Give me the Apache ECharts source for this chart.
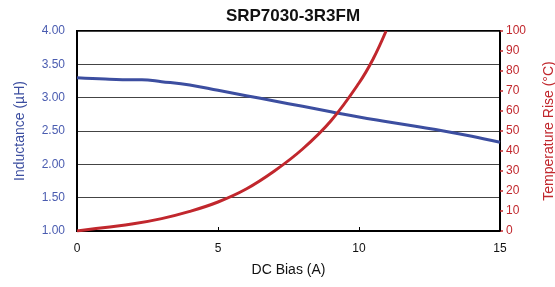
<!DOCTYPE html>
<html>
<head>
<meta charset="utf-8">
<script src="https://cdn.jsdelivr.net/npm/echarts@6/dist/echarts.min.js"></script>
<style>
  html, body { margin: 0; padding: 0; background: #fff; }
  #chart { width: 555px; height: 287px; }
</style>
</head>
<body>
<div id="chart"></div>
<script>
// DC bias (A) vs inductance (uH)
var biasL = [0, 1, 2, 2.3, 3, 4, 5, 6, 7, 8, 9, 10, 11, 12, 13, 14, 15]
var inductance = [3.30, 3.28, 3.27, 3.27, 3.24, 3.19, 3.11, 3.03, 2.95, 2.87, 2.79, 2.71, 2.64, 2.57, 2.50, 2.42, 2.33]
// DC bias (A) vs temperature rise (C)
var biasT = [0, 1, 2, 3, 4, 5, 6, 7, 8, 9, 10, 10.5, 10.96]
var tempRise = [0, 1.8, 3.6, 6.2, 9.8, 14.5, 21, 30, 41, 55, 74, 86, 100]
var xTicks = [0, 5, 10, 15]

var blue = '#3c4ea0'
var red = '#c1272d'
var font = "'Liberation Sans Narrow', 'Liberation Sans', Arial, sans-serif"

function pairs(xs, ys) {
  return xs.map(function (x, i) { return [x, ys[i]] })
}

var chart = echarts.init(document.getElementById('chart'))
chart.setOption({
  animation: false,
  textStyle: { fontFamily: font },
  title: {
    text: 'SRP7030-3R3FM',
    left: 288,
    textAlign: 'center',
    top: 3,
    textStyle: { fontFamily: 'Liberation Sans, Arial, sans-serif', fontSize: 17, fontWeight: 'bold', color: '#111' }
  },
  grid: {
    left: 77, right: 55, top: 31, bottom: 56,
    outerBoundsMode: 'none',
    containLabel: false,
    show: true, borderColor: '#000', borderWidth: 2
  },
  xAxis: {
    type: 'value',
    min: xTicks[0], max: xTicks[xTicks.length - 1], interval: 5,
    name: 'DC Bias (A)',
    nameLocation: 'middle',
    nameGap: 32,
    nameTextStyle: { fontSize: 14, color: '#111', fontFamily: font },
    axisLine: { lineStyle: { color: '#000', width: 2 } },
    axisTick: { inside: true, length: 4, lineStyle: { color: '#000' } },
    axisLabel: { color: '#111', fontSize: 12, margin: 12, fontFamily: font },
    splitLine: { show: false }
  },
  yAxis: [
    {
      type: 'value',
      min: 1, max: 4, interval: 0.5,
      name: 'Inductance (\u00b5H)',
      nameLocation: 'middle',
      nameGap: 50,
      nameTextStyle: { fontSize: 14, color: blue, fontFamily: font },
      axisLine: { show: true, lineStyle: { color: '#000', width: 2 } },
      axisTick: { show: false },
      axisLabel: {
        color: '#4a5cb0', fontSize: 12, margin: 12, fontFamily: font,
        formatter: function (v) { return v.toFixed(2) }
      },
      splitLine: { lineStyle: { color: '#444', width: 1.2 } }
    },
    {
      type: 'value',
      position: 'right',
      min: 0, max: 100, interval: 10,
      name: 'Temperature Rise (\u00b0C)',
      nameLocation: 'middle',
      nameRotate: 90,
      nameGap: 42,
      nameTextStyle: { fontSize: 14, color: red, fontFamily: font },
      axisLine: { show: true, lineStyle: { color: '#000', width: 2 } },
      axisTick: { show: true, length: 3, lineStyle: { color: red, width: 1.5 } },
      axisLabel: { color: red, fontSize: 12, margin: 6, fontFamily: font },
      splitLine: { show: false }
    }
  ],
  series: [
    {
      type: 'line',
      yAxisIndex: 0,
      data: pairs(biasL, inductance),
      smooth: 0.4,
      showSymbol: false,
      lineStyle: { color: blue, width: 3 }
    },
    {
      type: 'line',
      yAxisIndex: 1,
      data: pairs(biasT, tempRise),
      smooth: 0.4,
      showSymbol: false,
      lineStyle: { color: red, width: 3 }
    }
  ]
})
</script>
</body>
</html>
